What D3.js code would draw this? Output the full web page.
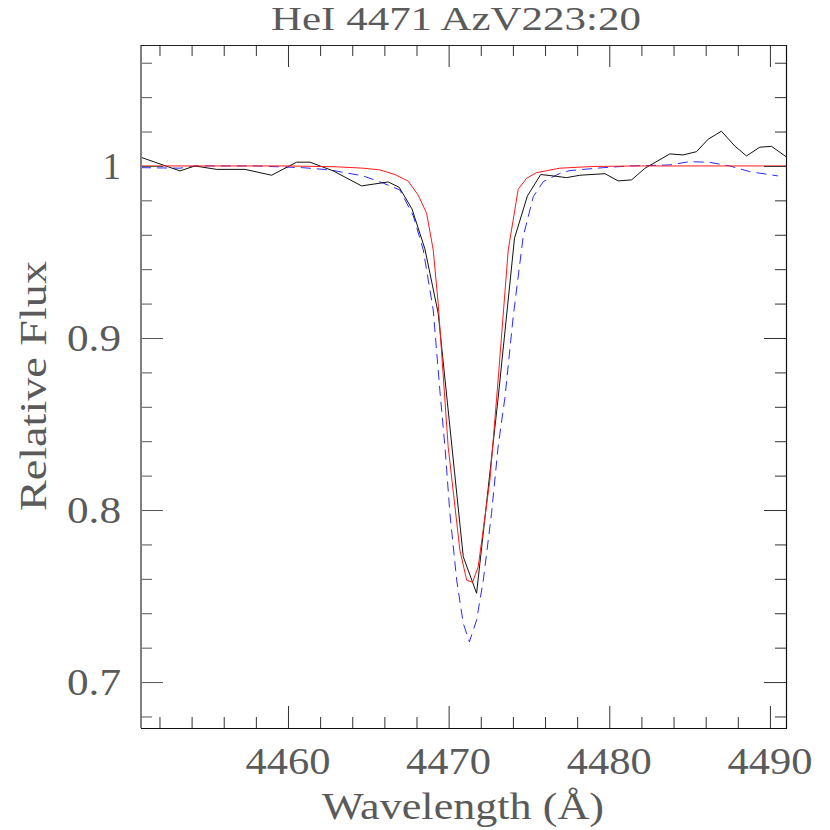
<!DOCTYPE html>
<html>
<head>
<meta charset="utf-8">
<script src="https://cdn.jsdelivr.net/npm/d3@7"></script>
<style>
  html, body { margin: 0; padding: 0; background: #fff; }
  svg text { font-family: "Liberation Serif", "DejaVu Serif", serif; fill: #5a5a5a; }
</style>
</head>
<body>
<div id="chart"></div>
<script>
// ---- Data ----
const titleText = "HeI 4471 AzV223:20";
const xLabel = "Wavelength (Å)";
const yLabel = "Relative Flux";
const xDomain = [4450.85, 4491.0];
const yDomain = [0.6733, 1.0703];
const xMajorTicks = [4460, 4470, 4480, 4490];
const yMajorTicks = [0.7, 0.8, 0.9, 1.0];
const yTickLabels = ["0.7", "0.8", "0.9", "1"];

// observed spectrum (black)
const obsWave = [4450.85, 4453.28, 4454.2, 4455.56, 4457.32, 4458.98, 4460.54, 4461.37, 4462.82, 4464.58,
  4466.24, 4466.92, 4467.72, 4468.52, 4469.35, 4470.91, 4471.74, 4473.08, 4474.1, 4474.9,
  4475.73, 4476.51, 4477.34, 4478.17, 4479.73, 4480.55, 4481.39, 4482.21, 4483.77, 4484.6,
  4485.43, 4486.15, 4486.98, 4487.81, 4488.54, 4489.37, 4490.1, 4491.0];
const obsFlux = [1.005, 0.9971, 1.0, 0.998, 0.998, 0.9946, 1.0022, 1.0022, 0.9971, 0.9884,
  0.9907, 0.9876, 0.975, 0.9518, 0.9144, 0.7729, 0.7516, 0.865, 0.958, 0.9825,
  0.995, 0.9942, 0.9932, 0.9946, 0.9955, 0.9913, 0.9919, 0.9986, 1.007, 1.0064,
  1.0083, 1.0155, 1.0202, 1.0116, 1.0058, 1.0109, 1.0114, 1.0054];

// model 1 (red, solid)
const redWave = [4450.85, 4460.0, 4463.0, 4464.68, 4465.72, 4466.66, 4467.48, 4468.1, 4468.63, 4469.04,
  4469.35, 4469.97, 4470.7, 4471.12, 4471.49, 4471.84, 4472.57, 4473.08, 4473.71, 4474.33,
  4474.85, 4475.47, 4476.92, 4479.0, 4482.0, 4491.0];
const redFlux = [1.0, 1.0, 0.9995, 0.9987, 0.9977, 0.995, 0.9912, 0.9831, 0.9725, 0.9512,
  0.92, 0.8368, 0.7767, 0.7593, 0.758, 0.767, 0.8174, 0.8756, 0.9512, 0.9864,
  0.9928, 0.9961, 0.9987, 0.9997, 1.0, 1.0];

// model 2 (blue, dashed)
const blueWave = [4450.85, 4453.28, 4454.3, 4458.0, 4460.9, 4462.6, 4464.68, 4465.93, 4466.97, 4467.8,
  4468.42, 4469.04, 4469.46, 4469.77, 4470.08, 4470.5, 4470.91, 4471.29, 4471.74, 4472.16,
  4472.67, 4473.08, 4473.5, 4474.02, 4474.64, 4475.27, 4475.89, 4476.3, 4476.92, 4477.55,
  4479.62, 4481.28, 4483.77, 4485.0, 4486.25, 4487.5, 4488.74, 4490.5];
const blueFlux = [0.999, 0.9987, 1.0, 1.0, 0.999, 0.9977, 0.9942, 0.99, 0.986, 0.971,
  0.9512, 0.9163, 0.8688, 0.8368, 0.798, 0.7593, 0.7341, 0.7234, 0.736, 0.7593,
  0.798, 0.8368, 0.865, 0.9124, 0.9589, 0.9822, 0.9909, 0.9928, 0.9957, 0.9973,
  0.999, 1.0, 1.0006, 1.0025, 1.0021, 1.0, 0.9967, 0.9942];

// ---- Drawing ----
(function () {
const W = 830, H = 830;
const mL = 141, mR = 786, mT = 45, mB = 728;

const svg = d3.select("#chart").append("svg")
  .attr("width", W).attr("height", H)
  .attr("viewBox", `0 0 ${W} ${H}`);

const x = d3.scaleLinear().domain(xDomain).range([mL, mR]);
const y = d3.scaleLinear().domain(yDomain).range([mB, mT]);

const clipId = "clip";
svg.append("clipPath").attr("id", clipId).append("rect")
  .attr("x", mL).attr("y", mT).attr("width", mR - mL).attr("height", mB - mT);

const plot = svg.append("g").attr("clip-path", `url(#${clipId})`);
const line = d3.line().x(d => x(d[0])).y(d => y(d[1]));

plot.append("path")
  .datum(d3.zip(blueWave, blueFlux))
  .attr("fill", "none").attr("stroke", "#2a2aff").attr("stroke-width", 1)
  .attr("stroke-dasharray", "10,6")
  .attr("d", line);

plot.append("path")
  .datum(d3.zip(obsWave, obsFlux))
  .attr("fill", "none").attr("stroke", "#111").attr("stroke-width", 1)
  .attr("d", line);

plot.append("path")
  .datum(d3.zip(redWave, redFlux))
  .attr("fill", "none").attr("stroke", "#ff1a1a").attr("stroke-width", 1)
  .attr("d", line);

// axes with inward ticks on all four sides
const majorLen = 22, minorLen = 11;
const xMinor = d3.range(4452, 4491, 2).filter(v => !xMajorTicks.includes(v));
const yMinor = d3.range(0.68, 1.07, 0.02).map(v => +v.toFixed(2))
  .filter(v => !yMajorTicks.some(m => Math.abs(m - v) < 1e-6));

function addAxis(ax, tx, ty, col) {
  const g = svg.append("g").attr("transform", `translate(${tx},${ty})`).call(ax);
  g.select(".domain").remove();
  g.selectAll(".tick line").attr("stroke", col).attr("stroke-width", 1);
  g.selectAll(".tick text").remove();
  return g;
}
addAxis(d3.axisBottom(x).tickValues(xMajorTicks).tickSize(-majorLen), 0, mB, "#333");
addAxis(d3.axisBottom(x).tickValues(xMinor).tickSize(-minorLen), 0, mB, "#333");
addAxis(d3.axisTop(x).tickValues(xMajorTicks).tickSize(-majorLen), 0, mT, "#333");
addAxis(d3.axisTop(x).tickValues(xMinor).tickSize(-minorLen), 0, mT, "#333");
addAxis(d3.axisLeft(y).tickValues(yMajorTicks).tickSize(-majorLen), mL, 0, "#555");
addAxis(d3.axisLeft(y).tickValues(yMinor).tickSize(-minorLen), mL, 0, "#555");
addAxis(d3.axisRight(y).tickValues(yMajorTicks).tickSize(-majorLen), mR, 0, "#333");
addAxis(d3.axisRight(y).tickValues(yMinor).tickSize(-minorLen), mR, 0, "#333");

// frame: left spine greyish/soft, others dark
svg.append("line").attr("x1", mL).attr("x2", mL).attr("y1", mT).attr("y2", mB)
  .attr("stroke", "#808080").attr("stroke-width", 2);
svg.append("line").attr("x1", mR + 0.5).attr("x2", mR + 0.5).attr("y1", mT).attr("y2", mB)
  .attr("stroke", "#111").attr("stroke-width", 1.2);
svg.append("line").attr("x1", mL).attr("x2", mR + 1).attr("y1", mT + 0.5).attr("y2", mT + 0.5)
  .attr("stroke", "#222").attr("stroke-width", 1.2);
svg.append("line").attr("x1", mL).attr("x2", mR + 1).attr("y1", mB + 0.5).attr("y2", mB + 0.5)
  .attr("stroke", "#111").attr("stroke-width", 1.2);

// tick labels
svg.append("g").selectAll("text")
  .data(xMajorTicks).join("text")
  .attr("x", d => x(d)).attr("y", 774)
  .attr("text-anchor", "middle")
  .attr("font-size", 37)
  .attr("textLength", 85).attr("lengthAdjust", "spacingAndGlyphs")
  .text(d => d);

svg.append("g").selectAll("text")
  .data(yMajorTicks).join("text")
  .attr("x", 121).attr("y", d => y(d) + 13)
  .attr("text-anchor", "end")
  .attr("font-size", 37)
  .each(function (d, i) {
    const t = d3.select(this).text(yTickLabels[i]);
    if (yTickLabels[i].length > 1) t.attr("textLength", 54).attr("lengthAdjust", "spacingAndGlyphs");
  });

// title
svg.append("text")
  .attr("x", 456).attr("y", 30)
  .attr("text-anchor", "middle")
  .attr("font-size", 33)
  .attr("textLength", 370).attr("lengthAdjust", "spacingAndGlyphs")
  .text(titleText);

// x label
svg.append("text")
  .attr("x", 463).attr("y", 819)
  .attr("text-anchor", "middle")
  .attr("font-size", 37)
  .attr("textLength", 282).attr("lengthAdjust", "spacingAndGlyphs")
  .text(xLabel);

// y label
svg.append("text")
  .attr("transform", "translate(46,386) rotate(-90)")
  .attr("text-anchor", "middle")
  .attr("font-size", 37)
  .attr("textLength", 250).attr("lengthAdjust", "spacingAndGlyphs")
  .text(yLabel);
})();
</script>
</body>
</html>
